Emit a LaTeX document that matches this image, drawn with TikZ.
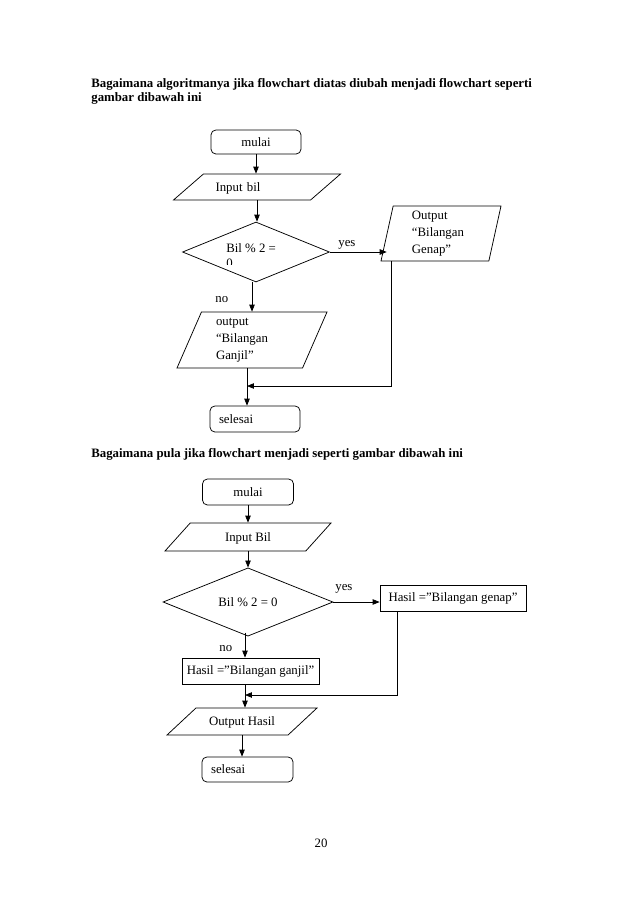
\documentclass[tikz,border=0pt]{standalone}
\usepackage{fontspec}
\setmainfont{Liberation Serif}
\usetikzlibrary{arrows.meta,shapes.geometric,calc}
\newlength\pxu
\setlength\pxu{0.3292mm}

\begin{document}
\begin{tikzpicture}[x=0.3292mm, y=-0.3292mm, line width=0.7pt,
  font=\fontsize{12}{16}\selectfont, >={Triangle[length=2.3mm,width=1.8mm]},
  term/.style 2 args={draw, rounded corners=1.6mm, minimum width=#1*\pxu, minimum height=#2*\pxu, inner sep=0pt},
  proc/.style 2 args={draw, minimum width=#1*\pxu, minimum height=#2*\pxu, inner sep=0pt},
  io/.style n args={4}{draw, trapezium, trapezium left angle=#1, trapezium right angle=#2, trapezium stretches body,
    minimum width=#3*\pxu, minimum height=#4*\pxu, inner sep=0pt},
  line1/.style 2 args={text height=#1*\pxu, text depth=#2*\pxu},
  dec/.style 2 args={draw, diamond, minimum width=#1*\pxu, minimum height=#2*\pxu, inner sep=0pt},
  lbl/.style={inner sep=0pt, anchor=base west},
  title/.style={font=\fontsize{12}{14}\selectfont\bfseries, anchor=base west, inner sep=0pt}]
\useasboundingbox (0,0) rectangle (638,903);
\fill[white] (0,0) rectangle (638,903);
% TOP: two outputs
\node[title] (q1) at (91,87) {Bagaimana algoritmanya jika flowchart diatas diubah menjadi flowchart seperti};
\node[title] (q2) at (91,101.5) {gambar dibawah ini};
\node[term={90}{24}] (t1) at (256,142) {mulai};
\node[io={41}{139}{167}{26}, line1={17}{9}, text width=27.3mm, align=left] (p1) at (257,187) {Input bil};
\node[dec={147}{60}] (d1) at (256,252) {};
\node[lbl] (d1a) at (226,252) {Bil \% 2 =};
\begin{scope}
  \clip (220,240) rectangle (300,264);
  \node[lbl] (d1b) at (226,267.5) {0};
\end{scope}
\node[io={75}{105}{120}{55}, text width=19.1mm, align=left] (og) at (441,233.5) {Output\\“Bilangan\\Genap”};
\node[io={61}{119}{150}{56}, text width=23.7mm, align=left] (p3) at (252,340) {output\\“Bilangan\\Ganjil”};
\node[term={90}{26}, text width=23.7mm, align=left] (t2) at (255,419) {selesai};
\node[lbl] (y1) at (338,246) {yes};
\node[lbl] (n1) at (215,302) {no};
\coordinate (m1) at (247,386);
\foreach \a/\b in {t1/p1,p1/d1} {\draw[->] (\a.south) -- (\a.south |- \b.north);}
\draw[->] (d1.east) -- (d1.east -| og.left side);
\draw[->] (p3.north |- d1.south) -- (p3.north);
\draw[->] ($(og.bottom left corner)+(11,0)$) |- (m1);
\draw[->] (p3.south -| m1) -- (t2.north -| m1);
% BOTTOM: one output
\node[title] (q3) at (91,457) {Bagaimana pula jika flowchart menjadi seperti gambar dibawah ini};
\node[term={91}{26}] (t3) at (248,492) {mulai};
\node[io={48}{132}{166}{28}, line1={18}{10}] (p4) at (248,537) {Input Bil};
\node[dec={170}{62}] (d2) at (248,602) {Bil \% 2 = 0};
\node[proc={146}{26}] (r1) at (453,598) {Hasil =”Bilangan genap”};
\node[proc={137}{26}] (r2) at (250.5,671) {Hasil =”Bilangan ganjil”};
\node[io={43}{137}{150}{27}, line1={17.5}{9.5}] (p5) at (242,721.5) {Output Hasil};
\node[term={91}{25}, text width=24mm, align=left] (t4) at (247.5,769.5) {selesai};
\node[lbl] (y2) at (335,590) {yes};
\node[lbl] (n2) at (219,651) {no};
\coordinate (m2) at (245,695);
\foreach \a/\b in {t3/p4,p4/d2} {\draw[->] (\a.south) -- (\a.south |- \b.north);}
\draw[->] (d2.east) -- (d2.east -| r1.west);
\draw[->] ($(d2.south -| m2)+(0,-4)$) -- (r2.north -| m2);
\draw[->] ($(r1.south west)+(18,0)$) |- (m2);
\draw[->] (r2.south -| m2) -- (p5.north -| m2);
\draw[->] (p5.south) -- (p5.south |- t4.north);
\node[anchor=base] (pg) at (321,847) {20};
\end{tikzpicture}
\end{document}
